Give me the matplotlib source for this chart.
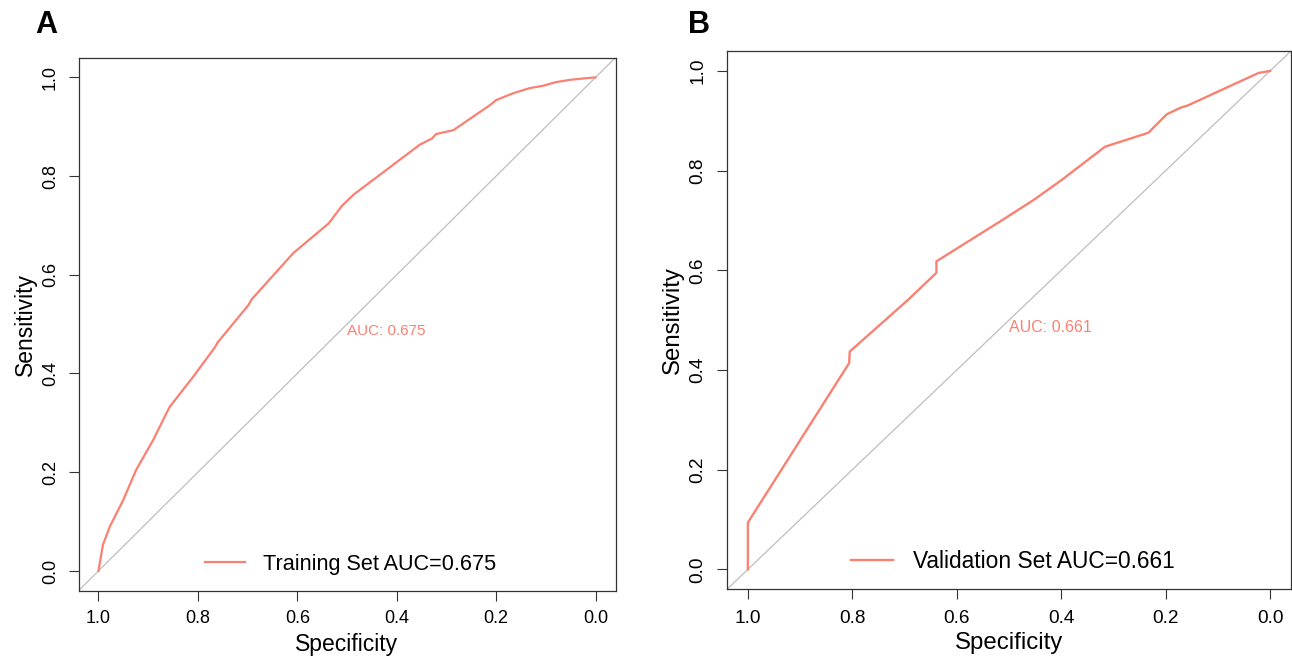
import matplotlib
matplotlib.use("Agg")
import matplotlib.pyplot as plt

plt.rcParams['font.family'] = ['Liberation Sans', 'DejaVu Sans']

# ROC points (specificity, sensitivity)
train_spec = [1.0, 0.991, 0.977, 0.95, 0.924, 0.89, 0.857, 0.809, 0.765, 0.761,
              0.698, 0.692, 0.608, 0.537, 0.510, 0.486, 0.353, 0.329, 0.321,
              0.286, 0.212, 0.200, 0.165, 0.133, 0.105, 0.081, 0.051, 0.031, 0.0]
train_sens = [0.0, 0.053, 0.09, 0.144, 0.205, 0.265, 0.332, 0.394, 0.454, 0.462,
              0.539, 0.550, 0.644, 0.704, 0.740, 0.763, 0.864, 0.876, 0.885,
              0.893, 0.944, 0.954, 0.968, 0.978, 0.983, 0.990, 0.995, 0.997, 1.0]

valid_spec = [1.0, 1.0, 0.806, 0.805, 0.693, 0.639, 0.639, 0.517, 0.453, 0.402,
              0.316, 0.233, 0.198, 0.172, 0.157, 0.022, 0.0]
valid_sens = [0.0, 0.094, 0.414, 0.437, 0.541, 0.595, 0.618, 0.698, 0.741, 0.779,
              0.848, 0.876, 0.913, 0.926, 0.931, 0.996, 1.0]

panels = ["A", "B"]
legend_labels = ["Training Set AUC=0.675", "Validation Set AUC=0.661"]
auc_labels = ["AUC: 0.675", "AUC: 0.661"]
ticks = [1.0, 0.8, 0.6, 0.4, 0.2, 0.0]
tick_labels = ["1.0", "0.8", "0.6", "0.4", "0.2", "0.0"]

line_col = '#FA8072'
fig = plt.figure(figsize=(12.92, 6.58), dpi=100)

# axes rectangles in figure fractions
rects = [[0.0608, 0.1023, 0.4156, 0.8102],
         [0.5627, 0.1044, 0.4365, 0.8181]]
scales = [1.0, 1.05]
leg_pos = [(0.5066, 0.049), (0.507, 0.052)]
letter_x = [0.0355, 0.541]

data = [(train_spec, train_sens), (valid_spec, valid_sens)]

for i in range(2):
    s = scales[i]
    ax = fig.add_axes(rects[i])
    spec, sens = data[i]
    ax.plot([1.04, -0.04], [-0.04, 1.04], color='#BEBEBE', lw=0.9, zorder=1)
    ax.plot(spec, sens, color=line_col, lw=1.6 * s, label=legend_labels[i],
            zorder=3, solid_joinstyle='round')
    ax.set_xlim(1.04, -0.04)
    ax.set_ylim(-0.04, 1.04)
    ax.set_xticks(ticks)
    ax.set_xticklabels(tick_labels)
    ax.set_yticks(ticks)
    ax.set_yticklabels(tick_labels, rotation=90, va='center')
    ax.tick_params(axis='both', direction='out', length=7 * s, width=0.8,
                   color='#333333', labelsize=13 * s, pad=7 * s)
    for sp in ax.spines.values():
        sp.set_linewidth(0.9)
        sp.set_color('#333333')
    ax.set_xlabel('Specificity', fontsize=16.5 * s, labelpad=4)
    ax.set_ylabel('Sensitivity', fontsize=16.5 * s, labelpad=4)
    ax.text(0.5, 0.5, auc_labels[i], color=line_col, fontsize=11 * s,
            ha='left', va='top')
    ax.legend(loc='center', bbox_to_anchor=leg_pos[i], frameon=False,
              fontsize=15.6 * s, handlelength=1.85, handletextpad=0.85,
              borderpad=0)
    fig.text(letter_x[i], 0.962, panels[i], fontsize=22, fontweight='bold',
             va='center', ha='center')

fig.savefig('out.png', dpi=100)
